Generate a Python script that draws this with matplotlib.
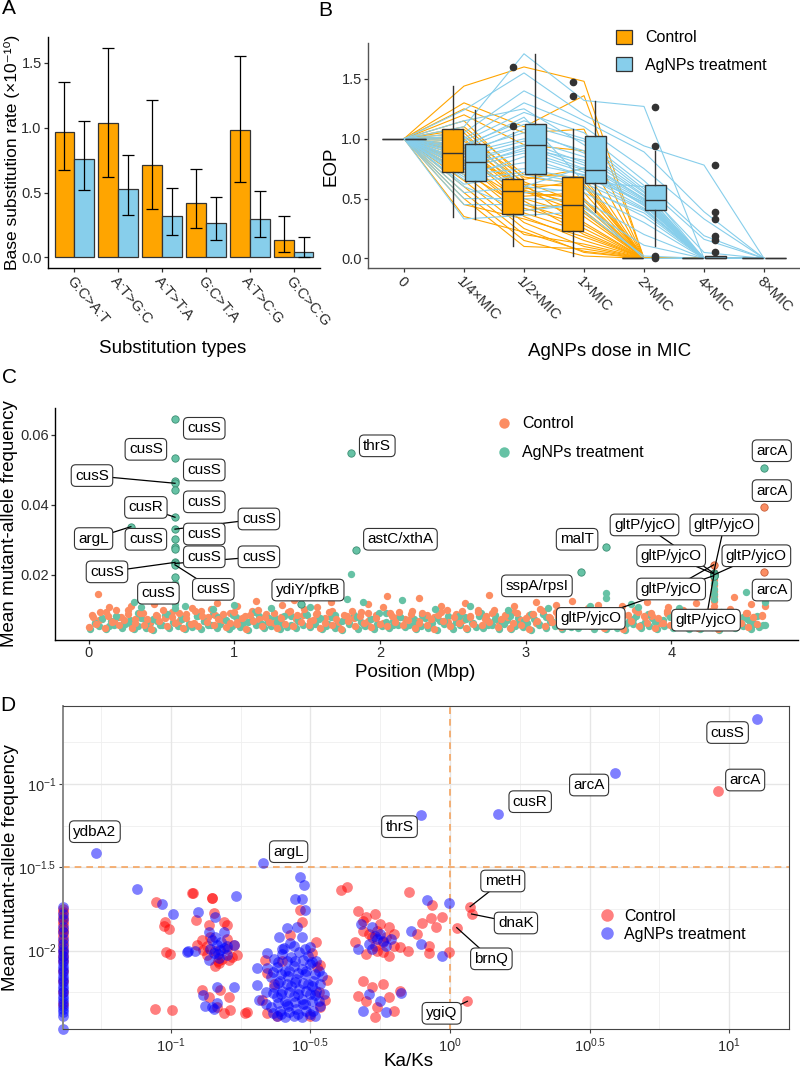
import numpy as np
import matplotlib.pyplot as plt
from matplotlib.patches import Patch
from matplotlib.lines import Line2D

plt.rcParams['font.family'] = ['Liberation Sans', 'DejaVu Sans']
plt.rcParams['mathtext.fontset'] = 'custom'
plt.rcParams['mathtext.rm'] = 'Liberation Sans'
plt.rcParams['mathtext.it'] = 'Liberation Sans:italic'
plt.rcParams['mathtext.bf'] = 'Liberation Sans:bold'

ORANGE = '#FFA500'
SKY = '#87CEEB'
C_CTRL = '#FC8D62'
C_AG = '#66C2A5'
D_CTRL = '#FF0000'
D_AG = '#0000FF'
TXT = '#2b2b2b'

# ---------------- data: panel A ----------------
sub_types = ['G:C>A:T', 'A:T>G:C', 'A:T>T:A', 'G:C>T:A', 'A:T>C:G', 'G:C>C:G']
rate_ctrl = [0.967, 1.036, 0.709, 0.416, 0.982, 0.138]
rate_ctrl_lo = [0.673, 0.620, 0.375, 0.230, 0.579, 0.041]
rate_ctrl_hi = [1.350, 1.617, 1.214, 0.681, 1.551, 0.321]
rate_ag = [0.755, 0.526, 0.319, 0.265, 0.298, 0.046]
rate_ag_lo = [0.518, 0.330, 0.171, 0.138, 0.156, 0.005]
rate_ag_hi = [1.054, 0.790, 0.536, 0.464, 0.510, 0.158]

# ---------------- data: panel B ----------------
doses = ['0', '1/4×MIC', '1/2×MIC', '1×MIC', '2×MIC', '4×MIC', '8×MIC']
# control replicates: EOP at 1/4, 1/2, 1 x MIC (1 at dose 0, 0 from 2x MIC on)
eop_ctrl = [
    [1.44, 1.60, 1.48], [1.30, 1.10, 1.36], [1.25, 1.05, 1.08], [1.20, 0.95, 0.90],
    [1.15, 0.66, 0.75], [1.10, 0.70, 0.68], [1.08, 0.62, 0.60], [1.05, 0.58, 0.65],
    [1.00, 0.55, 0.50], [0.98, 0.64, 0.45], [0.95, 0.60, 0.40], [0.92, 0.52, 0.55],
    [0.90, 0.57, 0.44], [0.88, 0.50, 0.35], [0.88, 0.45, 0.30], [0.85, 0.62, 0.25],
    [0.82, 0.40, 0.48], [0.80, 0.38, 0.22], [0.78, 0.48, 0.20], [0.75, 0.35, 0.15],
    [0.72, 0.42, 0.28], [0.70, 0.30, 0.10], [0.65, 0.25, 0.05], [0.60, 0.20, 0.12],
    [0.55, 0.15, 0.02], [0.50, 0.10, 0.08], [0.45, 0.33, 0.18], [0.35, 0.22, 0.06],
    [1.02, 0.68, 0.62], [0.93, 0.56, 0.38]]
# AgNPs replicates: EOP at 1/4, 1/2, 1, 2, 4 x MIC (0 at 8x MIC)
eop_ag = [
    [1.10, 1.71, 1.32, 1.27, 0.00], [1.24, 1.55, 1.20, 0.94, 0.78], [1.05, 1.40, 1.15, 0.89, 0.39],
    [1.00, 1.30, 1.10, 0.75, 0.33], [0.98, 1.22, 1.05, 0.65, 0.19], [0.95, 1.15, 1.00, 0.61, 0.16],
    [0.92, 1.12, 0.98, 0.58, 0.05], [0.90, 1.05, 0.90, 0.55, 0.00], [0.88, 1.00, 0.85, 0.52, 0.00],
    [0.85, 0.98, 0.80, 0.50, 0.00], [0.82, 0.95, 0.78, 0.49, 0.00], [0.80, 0.94, 0.75, 0.48, 0.00],
    [0.78, 0.90, 0.74, 0.46, 0.00], [0.75, 0.88, 0.72, 0.45, 0.00], [0.72, 0.80, 0.70, 0.42, 0.00],
    [0.70, 0.75, 0.66, 0.41, 0.00], [0.66, 0.72, 0.63, 0.40, 0.00], [0.62, 0.70, 0.60, 0.35, 0.00],
    [0.55, 0.60, 0.55, 0.30, 0.00], [0.50, 0.50, 0.48, 0.20, 0.00], [0.45, 0.45, 0.42, 0.11, 0.00],
    [0.33, 0.36, 0.39, 0.02, 0.00], [0.60, 0.40, 0.45, 0.00, 0.00], [1.15, 1.25, 0.95, 0.56, 0.00],
    [0.87, 1.08, 0.88, 0.53, 0.00], [0.76, 0.92, 0.82, 0.50, 0.00], [0.68, 0.85, 0.69, 0.47, 0.00],
    [1.02, 0.60, 0.76, 0.44, 0.00], [0.82, 0.55, 0.58, 0.38, 0.00], [0.93, 1.18, 0.64, 0.60, 0.00]]

box_ctrl_med = [1.0, 0.878, 0.561, 0.444, 0, 0, 0]
box_ctrl_q1 = [1.0, 0.725, 0.369, 0.231, 0, 0, 0]
box_ctrl_q3 = [1.0, 1.081, 0.661, 0.678, 0, 0, 0]
box_ctrl_lo = [1.0, 0.350, 0.100, 0.022, 0, 0, 0]
box_ctrl_hi = [1.0, 1.439, 1.053, 1.078, 0, 0, 0]
box_ctrl_out = [[], [], [1.60, 1.106], [1.478, 1.358], [], [], []]
box_ag_med = [1.0, 0.808, 0.944, 0.739, 0.492, 0, 0]
box_ag_q1 = [1.0, 0.650, 0.703, 0.631, 0.406, 0, 0]
box_ag_q3 = [1.0, 0.953, 1.122, 1.022, 0.611, 0.022, 0]
box_ag_lo = [1.0, 0.331, 0.364, 0.386, 0.106, 0, 0]
box_ag_hi = [1.0, 1.239, 1.706, 1.317, 0.894, 0.022, 0]
box_ag_out = [[], [], [], [], [1.267, 0.942, 0.017, 0.0],
              [0.78, 0.392, 0.331, 0.189, 0.156, 0.053], []]

# ---------------- data: panel C (position Mbp, frequency x 1e-4 for band lists) ----------------
c_ctrl_pos = [0.00, 0.03, 0.05, 0.08, 0.11, 0.13, 0.16, 0.19, 0.21, 0.24,
              0.27, 0.30, 0.32, 0.35, 0.38, 0.40, 0.43, 0.46, 0.48, 0.51,
              0.54, 0.57, 0.59, 0.62, 0.65, 0.67, 0.70, 0.73, 0.75, 0.78,
              0.81, 0.84, 0.86, 0.89, 0.92, 0.94, 0.97, 1.00, 1.02, 1.05,
              1.08, 1.11, 1.13, 1.16, 1.19, 1.21, 1.24, 1.27, 1.29, 1.32,
              1.35, 1.38, 1.40, 1.43, 1.46, 1.48, 1.51, 1.54, 1.56, 1.59,
              1.62, 1.65, 1.67, 1.70, 1.73, 1.75, 1.78, 1.81, 1.83, 1.86,
              1.89, 1.92, 1.94, 1.97, 2.00, 2.02, 2.05, 2.08, 2.10, 2.13,
              2.16, 2.19, 2.21, 2.24, 2.27, 2.29, 2.32, 2.35, 2.37, 2.40,
              2.43, 2.46, 2.48, 2.51, 2.54, 2.56, 2.59, 2.62, 2.64, 2.67,
              2.70, 2.73, 2.75, 2.78, 2.81, 2.83, 2.86, 2.89, 2.91, 2.94,
              2.97, 3.00, 3.02, 3.05, 3.08, 3.10, 3.13, 3.16, 3.18, 3.21,
              3.24, 3.27, 3.29, 3.32, 3.35, 3.37, 3.40, 3.43, 3.45, 3.48,
              3.51, 3.54, 3.56, 3.59, 3.62, 3.64, 3.67, 3.70, 3.72, 3.75,
              3.78, 3.81, 3.83, 3.86, 3.89, 3.91, 3.94, 3.97, 3.99, 4.02,
              4.05, 4.08, 4.10, 4.13, 4.16, 4.18, 4.21, 4.24, 4.26, 4.29,
              4.32, 4.35, 4.37, 4.40, 4.43, 4.45, 4.48, 4.51, 4.53, 4.56,
              4.59, 4.62]
c_ctrl_frq = [52, 79, 61, 95, 48, 83, 67, 101, 56, 71, 88, 50, 64, 92, 58, 75, 47, 86, 69, 99,
              54, 81, 63, 90, 49, 77, 60, 97, 53, 84, 66, 104, 57, 73, 89, 51, 62, 94, 59, 76,
              46, 87, 68, 100, 55, 80, 65, 91, 50, 78, 61, 96, 54, 85, 67, 103, 58, 72, 88, 49,
              63, 93, 57, 74, 47, 86, 70, 98, 53, 82, 64, 90, 51, 77, 60, 108, 55, 84, 66, 95,
              58, 71, 89, 48, 62, 92, 56, 75, 46, 85, 69, 101, 54, 80, 63, 97, 50, 79, 61, 94,
              57, 83, 67, 99, 52, 73, 87, 49, 64, 91, 58, 76, 47, 88, 68, 102, 55, 81, 65, 93,
              51, 78, 60, 96, 56, 84, 66, 105, 53, 72, 89, 48, 63, 95, 59, 74, 46, 86, 70, 99,
              54, 82, 64, 91, 50, 77, 62, 97, 57, 85, 67, 100, 52, 71, 88, 49, 61, 94, 58, 75,
              47, 87, 69, 103, 55, 80, 63, 92, 51, 79, 60, 82]
c_ctrl_mid_pos = [0.02, 0.07, 0.12, 0.17, 0.22, 0.27, 0.32, 0.37, 0.42, 0.47,
                  0.52, 0.57, 0.62, 0.67, 0.72, 0.77, 0.82, 0.87, 0.92, 0.97,
                  1.02, 1.07, 1.12, 1.17, 1.22, 1.27, 1.32, 1.37, 1.42, 1.47,
                  1.52, 1.57, 1.62, 1.67, 1.72, 1.77, 1.82, 1.87, 1.92, 1.97,
                  2.02, 2.07, 2.12, 2.17, 2.22, 2.27, 2.32, 2.37, 2.42, 2.47,
                  2.52, 2.57, 2.62, 2.67, 2.72, 2.77, 2.82, 2.87, 2.92, 2.97,
                  3.02, 3.07, 3.12, 3.17, 3.22, 3.27, 3.32, 3.37, 3.42, 3.47,
                  3.52, 3.57, 3.62, 3.67, 3.72, 3.77, 3.82, 3.87, 3.92, 3.97,
                  4.02, 4.07, 4.12, 4.17, 4.22, 4.27, 4.32, 4.37, 4.42, 4.47,
                  4.52, 4.57, 4.62]
c_ctrl_mid_frq = [86, 72, 95, 68, 81, 99, 74, 90, 66, 84, 77, 93, 70, 88, 63, 97, 79, 85, 71, 92,
                  67, 83, 96, 75, 89, 64, 80, 94, 73, 87, 69, 91, 78, 98, 65, 82, 76, 95, 70, 86,
                  62, 90, 81, 74, 97, 68, 85, 79, 93, 66, 88, 72, 84, 99, 75, 91, 67, 80, 94, 71,
                  86, 63, 96, 78, 83, 70, 92, 76, 89, 65, 81, 98, 73, 87, 68, 95, 79, 84, 64, 90,
                  77, 93, 69, 86, 72, 97, 66, 82, 88, 74, 91, 80, 85]
c_ag_pos = [0.01, 0.04, 0.07, 0.09, 0.12, 0.15, 0.17, 0.20, 0.23, 0.25,
            0.28, 0.31, 0.34, 0.36, 0.39, 0.42, 0.44, 0.47, 0.50, 0.52,
            0.55, 0.58, 0.61, 0.63, 0.66, 0.69, 0.71, 0.74, 0.77, 0.79,
            0.82, 0.85, 0.88, 0.90, 0.93, 0.96, 0.98, 1.01, 1.04, 1.06,
            1.09, 1.12, 1.15, 1.17, 1.20, 1.23, 1.25, 1.28, 1.31, 1.33,
            1.36, 1.39, 1.42, 1.44, 1.47, 1.50, 1.52, 1.55, 1.58, 1.60,
            1.63, 1.66, 1.69, 1.71, 1.74, 1.77, 1.79, 1.82, 1.85, 1.87,
            1.90, 1.93, 1.96, 1.98, 2.01, 2.04, 2.06, 2.09, 2.12, 2.14,
            2.17, 2.20, 2.23, 2.25, 2.28, 2.31, 2.33, 2.36, 2.39, 2.41,
            2.44, 2.47, 2.50, 2.52, 2.55, 2.58, 2.60, 2.63, 2.66, 2.68,
            2.71, 2.74, 2.77, 2.79, 2.82, 2.85, 2.87, 2.90, 2.93, 2.95,
            2.98, 3.01, 3.04, 3.06, 3.09, 3.12, 3.14, 3.17, 3.20, 3.22,
            3.25, 3.28, 3.31, 3.33, 3.36, 3.39, 3.41, 3.44, 3.47, 3.49,
            3.52, 3.55, 3.58, 3.60, 3.63, 3.66, 3.68, 3.71, 3.74, 3.76,
            3.79, 3.82, 3.85, 3.87, 3.90, 3.93, 3.95, 3.98, 4.01, 4.03,
            4.06, 4.09, 4.12, 4.14, 4.17, 4.20, 4.22, 4.25, 4.28, 4.30,
            4.33, 4.36, 4.39, 4.41, 4.44, 4.47, 4.49, 4.52, 4.55, 4.57,
            4.60, 4.63]
c_ag_frq = [47, 62, 53, 74, 45, 68, 57, 81, 50, 59, 72, 46, 55, 78, 49, 64, 44, 70, 58, 85,
            48, 66, 54, 76, 45, 61, 52, 83, 47, 69, 56, 88, 50, 60, 73, 46, 53, 79, 51, 63,
            44, 71, 57, 84, 49, 65, 55, 77, 46, 62, 52, 82, 48, 68, 58, 87, 51, 59, 74, 45,
            54, 80, 50, 63, 44, 72, 60, 86, 47, 67, 55, 75, 46, 61, 53, 90, 49, 69, 57, 81,
            51, 58, 73, 45, 54, 78, 48, 64, 44, 70, 59, 84, 47, 66, 56, 79, 46, 62, 52, 83,
            50, 68, 58, 85, 47, 60, 71, 45, 55, 76, 51, 63, 44, 73, 57, 88, 49, 65, 54, 80,
            46, 61, 52, 82, 48, 69, 56, 86, 47, 59, 72, 45, 53, 81, 50, 64, 44, 70, 60, 84,
            48, 67, 55, 77, 46, 62, 53, 89, 50, 69, 57, 83, 47, 58, 74, 45, 52, 79, 51, 63,
            44, 71, 58, 87, 49, 66, 54, 75, 46, 61, 52, 56]
c_ag_mid_pos = [0.04, 0.09, 0.14, 0.19, 0.24, 0.29, 0.34, 0.39, 0.44, 0.49,
                0.54, 0.59, 0.64, 0.69, 0.74, 0.79, 0.84, 0.89, 0.94, 0.99,
                1.04, 1.09, 1.14, 1.19, 1.24, 1.29, 1.34, 1.39, 1.44, 1.49,
                1.54, 1.59, 1.64, 1.69, 1.74, 1.79, 1.84, 1.89, 1.94, 1.99,
                2.04, 2.09, 2.14, 2.19, 2.24, 2.29, 2.34, 2.39, 2.44, 2.49,
                2.54, 2.59, 2.64, 2.69, 2.74, 2.79, 2.84, 2.89, 2.94, 2.99,
                3.04, 3.09, 3.14, 3.19, 3.24, 3.29, 3.34, 3.39, 3.44, 3.49,
                3.54, 3.59, 3.64, 3.69, 3.74, 3.79, 3.84, 3.89, 3.94, 3.99,
                4.04, 4.09, 4.14, 4.19, 4.24, 4.29, 4.34, 4.39, 4.44, 4.49,
                4.54, 4.59, 4.64]
c_ag_mid_frq = [62, 78, 55, 84, 70, 59, 91, 66, 75, 57, 88, 64, 73, 60, 82, 68, 56, 79, 71, 86,
                58, 67, 93, 61, 77, 65, 83, 57, 72, 89, 63, 76, 59, 85, 69, 62, 80, 56, 74, 90,
                66, 58, 81, 71, 64, 87, 60, 78, 68, 55, 84, 73, 62, 92, 57, 75, 65, 82, 59, 70,
                88, 61, 79, 67, 56, 85, 72, 63, 90, 58, 76, 69, 83, 60, 74, 57, 89, 66, 71, 81,
                64, 59, 86, 68, 77, 62, 93, 56, 73, 80, 65, 84, 58]
c_ctrl_hi_pos = [0.06, 0.14, 0.29, 0.45, 0.71, 0.88, 1.02, 1.15, 1.33, 1.41, 1.57, 1.66, 1.92,
                 2.05, 2.27, 2.42, 2.58, 2.75, 2.92, 3.07, 3.21, 3.32, 3.50, 3.66, 3.83, 3.98,
                 4.17, 4.29, 4.29, 4.29, 4.29, 4.29, 4.29, 4.43, 4.55, 4.64, 4.64, 4.64]
c_ctrl_hi_frq = [0.0146, 0.0108, 0.0112, 0.0118, 0.0105, 0.0121, 0.0110, 0.0125, 0.0114, 0.0128,
                 0.0109, 0.0123, 0.0116, 0.0140, 0.0133, 0.0112, 0.0119, 0.0143, 0.0110, 0.0122,
                 0.0113, 0.0127, 0.0115, 0.0111, 0.0124, 0.0109, 0.0120, 0.0185, 0.0170, 0.0155,
                 0.0140, 0.0125, 0.0112, 0.0138, 0.0118, 0.0175, 0.0130, 0.0112]
c_ag_hi_pos = [0.31, 0.36, 0.592, 0.592, 0.592, 0.592, 0.592, 0.592, 0.66, 0.85, 1.00, 1.25,
               1.52, 1.77, 1.80, 1.88, 2.15, 2.38, 2.62, 2.88, 3.15, 3.44, 3.55, 3.55, 3.72,
               3.77, 4.05, 4.29, 4.29, 4.29, 4.29, 4.51, 4.64, 4.64, 4.64]
c_ag_hi_frq = [0.0124, 0.0108, 0.0178, 0.0163, 0.0148, 0.0133, 0.0118, 0.0105, 0.0112, 0.0102,
               0.0115, 0.0105, 0.0108, 0.0131, 0.0202, 0.0124, 0.0129, 0.0104, 0.0112, 0.0101,
               0.0107, 0.0110, 0.0148, 0.0135, 0.0118, 0.0109, 0.0106, 0.0178, 0.0160, 0.0145,
               0.0130, 0.0152, 0.0160, 0.0140, 0.0122]

c_gene = ['cusS'] * 13 + ['cusR', 'argL', 'thrS', 'astC/xthA', 'ydiY/pfkB', 'sspA/rpsI', 'malT'] \
    + ['gltP/yjcO'] * 7 + ['arcA'] * 3
c_gene_pos = [0.592] * 13 + [0.592, 0.289, 1.803, 1.832, 1.46, 3.378, 3.553] + [4.291] * 7 + [4.638] * 3
c_gene_frq = [0.0646, 0.0533, 0.0469, 0.0462, 0.0443, 0.0331, 0.0302, 0.0281, 0.0275, 0.0236,
              0.0233, 0.0229, 0.0193, 0.0365, 0.0338, 0.0548, 0.0271, 0.0118, 0.0209, 0.0279,
              0.0205, 0.0207, 0.0203, 0.0200, 0.0229, 0.0198, 0.0196, 0.0507, 0.0395, 0.0208]
c_gene_grp = ['ag'] * 20 + ['ctrl', 'ag', 'ag', 'ag', 'ctrl', 'ag', 'ag'] + ['ag', 'ctrl', 'ctrl']
# label placement (repelled positions) and whether a leader segment is drawn
c_lab_x = [0.793, 0.392, 0.793, 0.022, 0.793, 1.168, 0.793, 0.392, 0.793, 0.125, 1.168, 0.855, 0.478,
           0.392, 0.033, 1.981, 2.14, 1.505, 3.077, 3.353,
           3.816, 4.364, 3.999, 4.584, 3.999, 3.447, 4.238, 4.690, 4.690, 4.690]
c_lab_y = [0.0619, 0.0559, 0.0500, 0.0484, 0.0409, 0.0360, 0.0317, 0.0302, 0.0252, 0.0209, 0.0252,
           0.0159, 0.0148, 0.0393, 0.0304, 0.0569, 0.0302, 0.0157, 0.0169, 0.0302,
           0.0343, 0.0343, 0.0255, 0.0255, 0.0160, 0.0076, 0.0071, 0.0555, 0.0441, 0.0157]
c_lab_seg = [0, 0, 0, 1, 0, 1, 0, 0, 0, 1, 1, 1, 0, 1, 1, 0, 0, 0, 0, 0, 1, 1, 1, 1, 1, 1, 1, 0, 0, 0]

# ---------------- data: panel D (log10 Ka/Ks, log10 frequency) ----------------
d_ctrl_lx = [-0.921, -0.851, -1.053, -0.909, -0.845, -1.020, -1.026, -1.008, -0.811, -0.799, -0.865,
             -0.907, -0.883, -0.829, -0.775, -0.763, -0.793, -0.889, -0.871, -1.017, -1.002, -1.056,
             -0.996, -0.889, -0.823, -0.793, -0.787, -0.811, -0.835, -0.865, -0.733, -0.853, -0.925,
             -0.817, -0.840, -0.800, -0.86, -0.84, -0.80, -0.78, -0.87, -0.83,
             -0.536, -0.530, -0.572, -0.494, -0.476, -0.464, -0.661, -0.655, -0.673, -0.655, -0.464,
             -0.446, -0.440, -0.727, -0.620, -0.500, -0.470, -0.630, -0.480, -0.600, -0.392, -0.368,
             -0.33, -0.30, -0.27, -0.25, -0.31, -0.22, -0.28, -0.24, -0.20, -0.34, -0.26, -0.30,
             -0.18, -0.22, -0.147, -0.063, -0.099, -0.069, -0.051, -0.027, -0.075, -0.075, -0.004,
             -0.12, -0.15, -0.31, -0.28, -0.24, -0.30, -0.26, -0.22, -0.20, -0.27, -0.33, -0.18,
             -0.29, -0.26, -0.23, -0.27, -0.24, -0.31, -0.20]
d_ctrl_ly = [-1.656, -1.682, -1.710, -1.816, -1.776, -1.826, -1.852, -1.870, -1.826, -1.846, -1.846,
             -1.966, -1.996, -2.076, -1.966, -2.026, -2.056, -1.936, -2.026, -2.006, -2.020, -2.350,
             -2.356, -2.236, -2.236, -2.276, -2.356, -2.376, -2.336, -2.276, -2.376, -1.686, -1.656,
             -2.050, -2.090, -1.930, -1.92, -2.00, -1.99, -2.04, -1.97, -2.06,
             -1.756, -1.826, -1.906, -2.016, -2.096, -2.086, -2.056, -2.136, -2.296, -2.376, -2.336,
             -2.296, -2.176, -2.366, -2.390, -2.390, -2.250, -2.200, -1.950, -2.060, -1.636, -1.620,
             -1.76, -1.80, -1.78, -1.84, -1.88, -1.86, -1.92, -1.95, -1.90, -1.95, -2.00, -2.02,
             -1.98, -2.03, -1.646, -1.726, -1.836, -1.806, -1.856, -1.800, -1.972, -2.016, -2.006,
             -1.90, -2.00, -2.18, -2.22, -2.20, -2.30, -2.34, -2.28, -2.36, -2.40, -2.27, -2.24,
             -1.90, -1.88, -1.92, -1.97, -2.01, -1.82, -1.97]
d_ag_lx = [-1.122, -0.766, -1.032, -0.991, -0.901, -0.841, -0.865, -0.811, -0.853, -0.835, -0.823,
           -0.847, -0.811, -0.799, -0.865, -0.829, -0.775, -0.939, -0.913, -0.835, -0.775, -0.883,
           -0.877, -0.853, -0.835, -0.847, -0.943, -0.84, -0.82, -0.80, -0.86, -0.83,
           -0.691, -0.691, -0.685, -0.655,
           -0.536, -0.524, -0.554, -0.530, -0.518, -0.584, -0.548, -0.614, -0.572, -0.530, -0.500,
           -0.596, -0.655,
           -0.63, -0.60, -0.57, -0.54, -0.51, -0.48, -0.62, -0.59, -0.56, -0.53, -0.50, -0.47,
           -0.64, -0.61, -0.58, -0.55, -0.52, -0.49, -0.63, -0.60, -0.57, -0.54, -0.51, -0.48,
           -0.62, -0.59, -0.56, -0.53, -0.50, -0.47, -0.64, -0.61, -0.58, -0.55, -0.52, -0.49,
           -0.62, -0.59, -0.56, -0.53, -0.50, -0.66, -0.46,
           -0.615, -0.585, -0.555, -0.525, -0.495, -0.635, -0.605, -0.575, -0.545, -0.515, -0.485,
           -0.615, -0.585, -0.555, -0.525, -0.495, -0.465, -0.635, -0.605, -0.575, -0.545, -0.515,
           -0.485, -0.615, -0.585, -0.555, -0.525, -0.495, -0.465, -0.635, -0.605, -0.575, -0.545,
           -0.515, -0.485, -0.60, -0.56, -0.52, -0.66, -0.45,
           -0.32, -0.28, -0.25, -0.29, -0.23, -0.26, -0.33, -0.21, -0.081, -0.004, -0.105, -0.030,
           -0.177, -0.29, -0.25, -0.23, -0.31, -0.14, -0.27, -0.24, -0.28]
d_ag_ly = [-1.631, -1.670, -1.722, -1.780, -1.770, -1.796, -1.886, -1.886, -1.936, -1.966, -1.996,
           -2.016, -1.986, -2.026, -2.056, -2.046, -1.966, -2.000, -2.000, -2.216, -2.216, -2.266,
           -2.330, -2.336, -2.316, -2.352, -2.006, -1.92, -1.95, -1.97, -1.99, -2.02,
           -2.106, -2.206, -2.296, -2.106,
           -1.556, -1.606, -1.692, -1.692, -1.756, -1.866, -1.856, -1.920, -1.956, -1.916, -1.976,
           -1.986, -2.016,
           -2.05, -2.02, -2.04, -2.01, -2.03, -2.06, -2.10, -2.12, -2.09, -2.11, -2.08, -2.12,
           -2.16, -2.18, -2.15, -2.17, -2.14, -2.18, -2.22, -2.24, -2.21, -2.23, -2.20, -2.24,
           -2.28, -2.30, -2.27, -2.29, -2.26, -2.30, -2.34, -2.36, -2.33, -2.35, -2.32, -2.36,
           -2.39, -2.40, -2.39, -2.40, -2.38, -2.25, -2.15,
           -2.07, -2.06, -2.065, -2.055, -2.07, -2.13, -2.14, -2.125, -2.135, -2.12, -2.14,
           -2.195, -2.20, -2.19, -2.195, -2.21, -2.20, -2.255, -2.26, -2.25, -2.26, -2.245,
           -2.265, -2.315, -2.32, -2.31, -2.32, -2.305, -2.33, -2.375, -2.38, -2.37, -2.38,
           -2.36, -2.39, -1.99, -1.97, -1.99, -2.32, -2.26,
           -1.84, -1.86, -1.90, -1.96, -1.97, -1.93, -1.99, -1.93, -1.696, -1.712, -1.960, -2.030,
           -2.256, -2.26, -2.30, -2.37, -2.36, -1.88, -1.91, -1.94, -1.99]
# genes with Ka/Ks = 0 (drawn at the left border), log10 frequency
d_zero_ctrl_ly = [-1.75, -1.77, -1.80, -1.82, -1.84, -1.87, -1.89, -1.91, -1.94, -1.97, -2.00,
                  -2.03, -2.06, -2.12, -2.18, -2.25, -2.32]
d_zero_ag_ly = [-1.74, -1.78, -1.81, -1.86, -1.89, -1.93, -1.96, -1.99, -2.01, -2.03, -2.05,
                -2.07, -2.09, -2.11, -2.13, -2.15, -2.17, -2.19, -2.21, -2.23, -2.25, -2.27,
                -2.29, -2.31, -2.33, -2.35, -2.37, -2.39, -np.inf]

d_gene = ['cusS', 'arcA', 'arcA', 'cusR', 'thrS', 'ydbA2', 'argL', 'metH', 'dnaK', 'brnQ', 'ygiQ']
d_gene_lx = [1.098, 0.590, 0.960, 0.171, -0.103, -1.269, -0.670, 0.072, 0.077, 0.024, 0.062]
d_gene_ly = [-0.612, -0.936, -1.042, -1.180, -1.186, -1.412, -1.472, -1.736, -1.780, -1.862, -2.304]
d_gene_grp = ['ag', 'ag', 'ctrl', 'ag', 'ag', 'ag', 'ag', 'ctrl', 'ctrl', 'ctrl', 'ctrl']
d_lab_lx = [0.994, 0.498, 1.057, 0.287, -0.181, -1.272, -0.578, 0.189, 0.236, 0.148, -0.030]
d_lab_ly = [-0.691, -1.006, -0.976, -1.106, -1.256, -1.286, -1.406, -1.582, -1.834, -2.049, -2.376]
d_lab_seg = [0, 0, 0, 0, 0, 0, 0, 1, 1, 1, 1]

# ---------------- figure ----------------
W, H = 800, 1069
fig = plt.figure(figsize=(W / 100, H / 100), dpi=100)


def add_ax(l, t, r, b):
    return fig.add_axes([l / W, 1 - b / H, (r - l) / W, (b - t) / H])


def classic(ax, col='black'):
    for s in ['top', 'right']:
        ax.spines[s].set_visible(False)
    for s in ['left', 'bottom']:
        ax.spines[s].set_color(col)
        ax.spines[s].set_linewidth(1.0)
    ax.tick_params(direction='out', length=3, width=0.9, color='#333333',
                   labelsize=10.5, labelcolor=TXT, pad=1.5)


def label_box(ax, txt, x0, y0, x1, y1, seg):
    if seg:
        ax.plot([x0, x1], [y0, y1], color='black', lw=0.9, zorder=4)
    ax.text(x1, y1, txt, ha='center', va='center', fontsize=11, color='black', zorder=5,
            bbox=dict(boxstyle='round,pad=0.25,rounding_size=0.3', fc='white', ec='#333333', lw=0.8))


axA = add_ax(48, 37, 320, 268)
axB = add_ax(368, 43, 800, 268)
axC = add_ax(55, 408, 798, 640)
axD = add_ax(63.3, 705.7, 789.3, 1029.3)

# ---- A
xa = np.arange(1, len(sub_types) + 1)
bw = 0.45
rc, ra = np.array(rate_ctrl), np.array(rate_ag)
axA.bar(xa - bw / 2, rc, bw, color=ORANGE, edgecolor='#333333', lw=0.9, zorder=2)
axA.bar(xa + bw / 2, ra, bw, color=SKY, edgecolor='#333333', lw=0.9, zorder=2)
axA.errorbar(xa - bw / 2, rc, yerr=[rc - np.array(rate_ctrl_lo), np.array(rate_ctrl_hi) - rc],
             fmt='none', ecolor='black', elinewidth=0.9, capsize=4.5, capthick=0.9, zorder=3)
axA.errorbar(xa + bw / 2, ra, yerr=[ra - np.array(rate_ag_lo), np.array(rate_ag_hi) - ra],
             fmt='none', ecolor='black', elinewidth=0.9, capsize=4.5, capthick=0.9, zorder=3)
axA.set_xlim(0.4, 6.6)
axA.set_ylim(-0.081, 1.698)
axA.set_yticks([0, 0.5, 1.0, 1.5])
axA.set_yticklabels(['0.0', '0.5', '1.0', '1.5'])
axA.set_xticks(xa)
axA.set_xticklabels(sub_types, rotation=-50, ha='left', va='top', rotation_mode='anchor')
classic(axA)
axA.set_ylabel('Base substitution rate (×10⁻¹⁰)', fontsize=12.5, color='black')
axA.yaxis.set_label_coords(-0.102, 0.5)
axA.set_xlabel('Substitution types', fontsize=13.5, color='black')
axA.xaxis.set_label_coords(0.46, -0.31)

# ---- B
xb = np.arange(1, len(doses) + 1)
for row in eop_ctrl:
    axB.plot(xb, [1.0] + row + [0, 0, 0], color=ORANGE, lw=0.8, zorder=1)
for row in eop_ag:
    axB.plot(xb, [1.0] + row + [0], color=SKY, lw=0.8, zorder=1)


def stats(med, q1, q3, lo, hi, out):
    return [dict(med=m, q1=a, q3=b, whislo=c, whishi=d, fliers=f)
            for m, a, b, c, d, f in zip(med, q1, q3, lo, hi, out)]


for st, off, col in [(stats(box_ctrl_med, box_ctrl_q1, box_ctrl_q3, box_ctrl_lo, box_ctrl_hi, box_ctrl_out), -0.19, ORANGE),
                     (stats(box_ag_med, box_ag_q1, box_ag_q3, box_ag_lo, box_ag_hi, box_ag_out), 0.19, SKY)]:
    axB.bxp(st, positions=xb + off, widths=0.34, patch_artist=True, showcaps=False, manage_ticks=False,
            boxprops=dict(facecolor=col, edgecolor='#333333', lw=1.0),
            medianprops=dict(color='#333333', lw=1.0),
            whiskerprops=dict(color='#333333', lw=1.0),
            flierprops=dict(marker='o', mfc='#333333', mec='#333333', ms=4.5), zorder=3)
axB.set_xlim(0.4, 7.6)
axB.set_ylim(-0.08, 1.80)
axB.set_yticks([0, 0.5, 1.0, 1.5])
axB.set_yticklabels(['0.0', '0.5', '1.0', '1.5'])
axB.set_xticks(xb)
axB.set_xticklabels(doses, rotation=-45, ha='left', va='top', rotation_mode='anchor')
classic(axB, '#555555')
axB.set_ylabel('EOP', fontsize=13.5, color='black')
axB.yaxis.set_label_coords(-0.065, 0.45)
axB.set_xlabel('AgNPs dose in MIC', fontsize=13.5, color='black')
axB.xaxis.set_label_coords(0.56, -0.335)
axB.legend([Patch(fc=ORANGE, ec='#333333', lw=0.9), Patch(fc=SKY, ec='#333333', lw=0.9)],
           ['Control', 'AgNPs treatment'], loc='upper left', bbox_to_anchor=(0.575, 1.06),
           frameon=False, fontsize=11.5, handlelength=1.0, handleheight=1.0, handletextpad=0.8,
           labelspacing=0.75, borderpad=0, borderaxespad=0)

# ---- C
ms_c = 28
axC.scatter(c_ag_pos, np.array(c_ag_frq) * 1e-4, s=ms_c, color=C_AG, lw=0, zorder=2)
axC.scatter(c_ctrl_mid_pos, np.array(c_ctrl_mid_frq) * 1e-4, s=ms_c, color=C_CTRL, lw=0, zorder=2)
axC.scatter(c_ag_mid_pos, np.array(c_ag_mid_frq) * 1e-4, s=ms_c, color=C_AG, lw=0, zorder=2)
axC.scatter(c_ctrl_pos, np.array(c_ctrl_frq) * 1e-4, s=ms_c, color=C_CTRL, lw=0, zorder=2)
axC.scatter(c_ctrl_hi_pos, c_ctrl_hi_frq, s=ms_c, color=C_CTRL, lw=0, zorder=2)
axC.scatter(c_ag_hi_pos, c_ag_hi_frq, s=ms_c, color=C_AG, lw=0, zorder=2)
for g, x0, y0, grp, x1, y1, sg in zip(c_gene, c_gene_pos, c_gene_frq, c_gene_grp, c_lab_x, c_lab_y, c_lab_seg):
    fc = C_CTRL if grp == 'ctrl' else C_AG
    ec = '#c8603b' if grp == 'ctrl' else '#3d8f74'
    axC.scatter([x0], [y0], s=ms_c, color=fc, edgecolor=ec, lw=0.6, zorder=3)
    label_box(axC, g, x0, y0, x1, y1, sg)
axC.set_xlim(-0.232, 4.87)
axC.set_ylim(0.00143, 0.0677)
axC.set_xticks([0, 1, 2, 3, 4])
axC.set_yticks([0.02, 0.04, 0.06])
axC.set_yticklabels(['0.02', '0.04', '0.06'])
classic(axC)
axC.set_ylabel('Mean mutant-allele frequency', fontsize=13.5, color='black')
axC.yaxis.set_label_coords(-0.05, 0.5)
axC.set_xlabel('Position (Mbp)', fontsize=13.5, color='black')
axC.xaxis.set_label_coords(0.485, -0.105)
axC.legend([Line2D([], [], ls='', marker='o', mfc=C_CTRL, mec='none', ms=7.5),
            Line2D([], [], ls='', marker='o', mfc=C_AG, mec='none', ms=7.5)],
           ['Control', 'AgNPs treatment'], loc='upper left', bbox_to_anchor=(0.594, 0.965),
           frameon=False, fontsize=11.5, handlelength=1.0, handletextpad=0.6,
           labelspacing=0.9, borderpad=0, borderaxespad=0)

# ---- D
xl = (10 ** -1.385, 10 ** 1.215)
yl = (10 ** -2.472, 10 ** -0.53)
axD.set_xscale('log')
axD.set_yscale('log')
axD.set_xlim(xl)
axD.set_ylim(yl)
for ly in [-0.75, -1.25, -1.75, -2.25]:
    axD.axhline(10 ** ly, color='#EFEFEF', lw=0.6, zorder=0)
for lx in [-1.25, -0.75, -0.25, 0.25, 0.75]:
    axD.axvline(10 ** lx, color='#EFEFEF', lw=0.6, zorder=0)
for ly in [-1, -1.5, -2]:
    axD.axhline(10 ** ly, color='#E6E6E6', lw=1.0, zorder=0)
for lx in [-1, -0.5, 0, 0.5, 1]:
    axD.axvline(10 ** lx, color='#E6E6E6', lw=1.0, zorder=0)
axD.axhline(10 ** -1.5, color='#F4A460', lw=1.2, ls=(0, (4, 3)), zorder=1)
axD.axvline(1.0, color='#F4A460', lw=1.2, ls=(0, (4, 3)), zorder=1)

ms_d = 60
axD.scatter(10 ** np.array(d_ctrl_lx), 10 ** np.array(d_ctrl_ly), s=ms_d, color=D_CTRL, alpha=0.5, lw=0, zorder=2)
zc = np.clip(10 ** np.array(d_zero_ctrl_ly), *yl)
axD.scatter(np.full(len(zc), xl[0]), zc, s=ms_d, color=D_CTRL, alpha=0.5, lw=0, zorder=2, clip_on=False)
gc = [i for i, g in enumerate(d_gene_grp) if g == 'ctrl']
axD.scatter(10 ** np.array(d_gene_lx)[gc], 10 ** np.array(d_gene_ly)[gc], s=ms_d, color=D_CTRL, alpha=0.5, lw=0, zorder=2)
axD.scatter(10 ** np.array(d_ag_lx), 10 ** np.array(d_ag_ly), s=ms_d, color=D_AG, alpha=0.5, lw=0, zorder=2)
za = np.clip(10 ** np.array(d_zero_ag_ly), *yl)
axD.scatter(np.full(len(za), xl[0]), za, s=ms_d, color=D_AG, alpha=0.5, lw=0, zorder=2, clip_on=False)
ga = [i for i, g in enumerate(d_gene_grp) if g == 'ag']
axD.scatter(10 ** np.array(d_gene_lx)[ga], 10 ** np.array(d_gene_ly)[ga], s=ms_d, color=D_AG, alpha=0.5, lw=0, zorder=2)
for g, x0, y0, x1, y1, sg in zip(d_gene, d_gene_lx, d_gene_ly, d_lab_lx, d_lab_ly, d_lab_seg):
    label_box(axD, g, 10 ** x0, 10 ** y0, 10 ** x1, 10 ** y1, sg)

dx_t = [-1, -0.5, 0, 0.5, 1]
dy_t = [-2, -1.5, -1]
axD.xaxis.set_minor_locator(plt.NullLocator())
axD.yaxis.set_minor_locator(plt.NullLocator())
axD.set_xticks([10 ** v for v in dx_t])
axD.set_xticklabels(['$\\mathregular{10^{%g}}$' % v for v in dx_t])
axD.set_yticks([10 ** v for v in dy_t])
axD.set_yticklabels(['$\\mathregular{10^{%g}}$' % v for v in dy_t])
for s in axD.spines.values():
    s.set_color('#444444')
    s.set_linewidth(0.8)
axD.spines['left'].set_color('#888888')
axD.spines['left'].set_linewidth(1.4)
axD.tick_params(direction='out', length=3, width=0.8, color='#444444', labelsize=10.5, labelcolor=TXT, pad=2)
axD.set_ylabel('Mean mutant-allele frequency', fontsize=13.5, color='black')
axD.yaxis.set_label_coords(-0.061, 0.5)
axD.set_xlabel('Ka/Ks', fontsize=13.5, color='black')
axD.xaxis.set_label_coords(0.475, -0.072)
axD.legend([Line2D([], [], ls='', marker='o', mfc=D_CTRL, mec='none', ms=9, alpha=0.5),
            Line2D([], [], ls='', marker='o', mfc=D_AG, mec='none', ms=9, alpha=0.5)],
           ['Control', 'AgNPs treatment'], loc='upper left', bbox_to_anchor=(0.738, 0.373),
           frameon=False, fontsize=11.5, handlelength=1.0, handletextpad=0.55,
           labelspacing=0.2, borderpad=0, borderaxespad=0)

# panel letters
for letter, px, py in [('A', 2, -1), ('B', 318, 1), ('C', 2, 368), ('D', 0, 696)]:
    fig.text(px / W, 1 - py / H, letter, fontsize=15, ha='left', va='top')

fig.savefig('out.png', dpi=100)
